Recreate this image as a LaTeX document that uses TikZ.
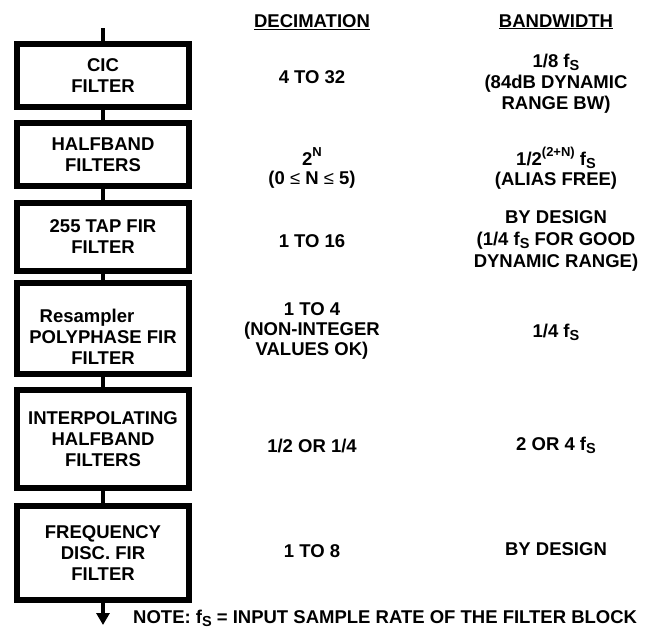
\documentclass[tikz,border=0pt]{standalone}
\usepackage{fontspec}
\setmainfont{Liberation Sans}
\usetikzlibrary{arrows.meta}
\newcommand\fsub{f\raisebox{-3.5pt}{\fontsize{14.5}{14.5}\selectfont S}}
\newcommand\supr[1]{\raisebox{9pt}{\fontsize{13}{13}\selectfont #1}}
\newcommand\ts{\rule{0pt}{20pt}}
\newcommand\leqs{{\mdseries ≤}}
\begin{document}
\begin{tikzpicture}[x=1pt,y=-1pt,
  font=\fontsize{18.5}{21}\selectfont\bfseries,
  blk/.style={draw, line width=6pt, minimum width=172pt, inner sep=0pt, align=center},
  conn/.style={line width=3.5pt},
  cell/.style={align=center, inner sep=0pt, anchor=north},
  tip/.style={-{Triangle[width=13pt,length=12pt]}}]
\useasboundingbox (0,0) rectangle (651,629);
% boxes
\node[blk, minimum height=63pt] (b1) at (103,75.5) {CIC\\FILTER};
\node[blk, minimum height=63pt] (b2) at (103,154.5) {HALFBAND\\FILTERS};
\node[blk, minimum height=68pt] (b3) at (103,237) {255 TAP FIR\\FILTER};
\node[blk, minimum height=91pt] (b4) at (103,328.5) {\rule{0pt}{30pt}Resampler\hspace*{32pt}\\POLYPHASE FIR\\FILTER};
\node[blk, minimum height=98pt] (b5) at (103,439) {INTERPOLATING\\HALFBAND\\FILTERS};
\node[blk, minimum height=94pt] (b6) at (103,553) {FREQUENCY\\DISC. FIR\\FILTER};
\coordinate (in) at (103,28);
\coordinate (out) at (103,625);
% connectors
\draw[conn] (in) -- (b1);
\draw[conn] (b1) -- (b2);
\draw[conn] (b2) -- (b3);
\draw[conn] (b3) -- (b4);
\draw[conn] (b4) -- (b5);
\draw[conn] (b5) -- (b6);
\draw[conn, tip] (b6) -- (out);
% headers
\node[cell] (hdec) at (312,7) {\ts\underline{DECIMATION}};
\node[cell] (hbw) at (556,7) {\ts\underline{BANDWIDTH}};
% decimation column
\node[cell] (d1) at (312,63) {\ts 4 TO 32};
\node[cell] (d2) at (312,145) {\ts 2\supr{N}\\[-2pt](0 \leqs{} N \leqs{} 5)};
\node[cell] (d3) at (312,227) {\ts 1 TO 16};
\node[cell] (d4) at (312,295) {\ts 1 TO 4\\[-1pt](NON-INTEGER\\[-1pt]VALUES OK)};
\node[cell] (d5) at (312,432) {\ts 1/2 OR 1/4};
\node[cell] (d6) at (312,537) {\ts 1 TO 8};
% bandwidth column
\node[cell] (w1) at (556,47) {\ts 1/8 {\fsub}\\(84dB DYNAMIC\\RANGE BW)};
\node[cell] (w2) at (556,145) {\ts 1/2\supr{(2+N)} {\fsub}\\[-1pt](ALIAS FREE)};
\node[cell] (w3) at (556,203) {\ts BY DESIGN\\[1pt](1/4 {\fsub} FOR GOOD\\[1pt]DYNAMIC RANGE)};
\node[cell] (w4) at (556,317) {\ts 1/4 {\fsub}};
\node[cell] (w5) at (556,430) {\ts 2 OR 4 {\fsub}};
\node[cell] (w6) at (556,535) {\ts BY DESIGN};
% note
\node[cell, anchor=north west] (note) at (133,603) {\ts NOTE: {\fsub} = INPUT SAMPLE RATE OF THE FILTER BLOCK};
\end{tikzpicture}
\end{document}
